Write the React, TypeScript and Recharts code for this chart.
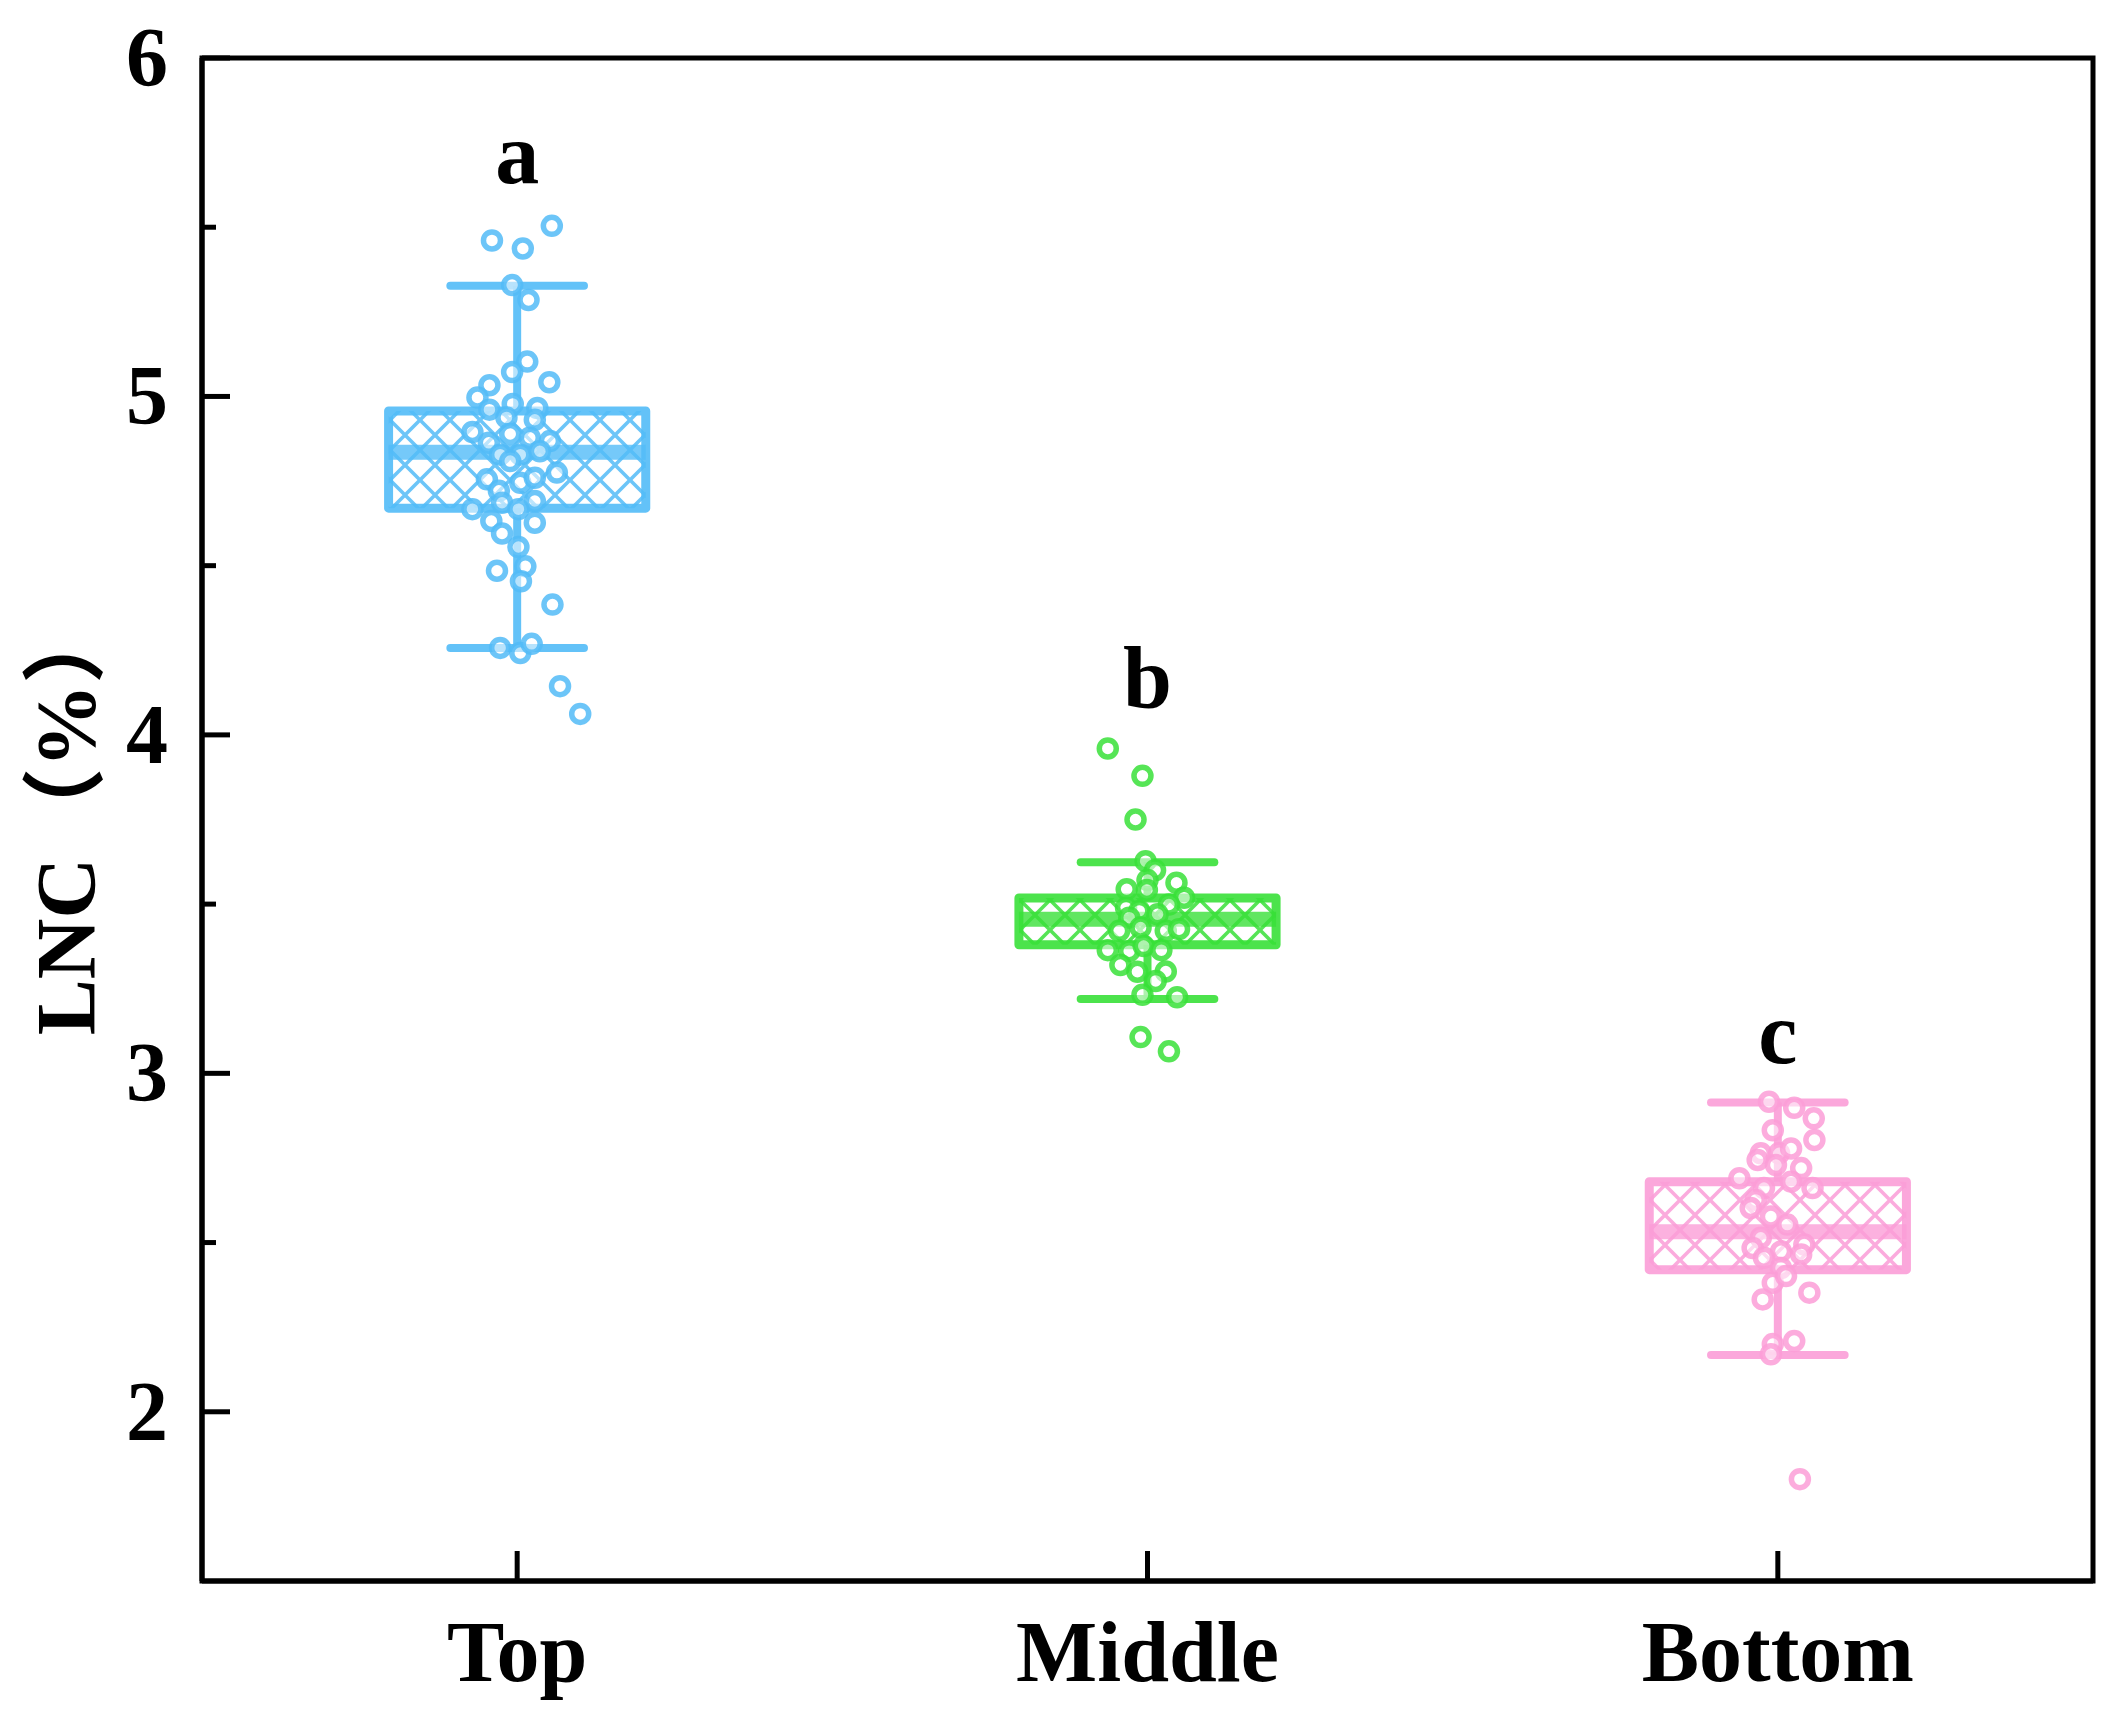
import React from "react";
import {
  ComposedChart,
  Scatter,
  XAxis,
  YAxis,
  ReferenceArea,
  ReferenceLine,
} from "recharts";

// groups, left to right
const CATEGORIES = ["Top", "Middle", "Bottom"];
const COLORS = ["#52bbf7", "#38e038", "#fb9dd7"];

// box statistics (%)
const Q1 = [4.67, 3.38, 2.42];
const Q3 = [4.957, 3.518, 2.68];
const MEDIAN = [4.835, 3.455, 2.532];
const WHISKER_LOW = [4.257, 3.22, 2.168];
const WHISKER_HIGH = [5.327, 3.624, 2.914];

// significance letters and the height they sit at
const LETTERS = ["a", "b", "c"];
const LETTER_Y = [5.63, 4.08, 3.03];

// raw samples and their horizontal jitter (fraction of the group width)
const TOP_VALUES = [
  5.461, 5.437, 5.504, 5.329, 5.285, 5.103, 5.072, 5.042, 5.033, 4.997,
  4.978, 4.966, 4.961, 4.938, 4.931, 4.895, 4.889, 4.878, 4.863, 4.868,
  4.828, 4.828, 4.838, 4.809, 4.775, 4.755, 4.745, 4.76, 4.721, 4.686,
  4.691, 4.667, 4.667, 4.632, 4.627, 4.595, 4.555, 4.485, 4.498, 4.454,
  4.385, 4.257, 4.242, 4.269, 4.144, 4.062,
];
const TOP_JITTER = [
  -0.04, 0.009, 0.055, -0.008, 0.018, 0.016, -0.008, 0.051, -0.044, -0.063,
  -0.007, 0.032, -0.044, -0.017, 0.028, -0.071, -0.011, 0.02, -0.045, 0.052,
  -0.027, 0.005, 0.036, -0.011, 0.063, -0.048, 0.005, 0.028, -0.029, -0.024,
  0.028, 0.002, -0.071, -0.041, 0.028, -0.024, 0.002, -0.032, 0.013, 0.006,
  0.056, -0.027, 0.005, 0.023, 0.068, 0.1,
];

const MIDDLE_VALUES = [
  3.96, 3.879, 3.75, 3.627, 3.6, 3.571, 3.563, 3.544, 3.542, 3.519, 3.499,
  3.489, 3.48, 3.46, 3.47, 3.421, 3.431, 3.421, 3.426, 3.364, 3.361, 3.376,
  3.364, 3.32, 3.3, 3.301, 3.273, 3.232, 3.225, 3.107, 3.065,
];
const MIDDLE_JITTER = [
  -0.063, -0.008, -0.019, -0.003, 0.012, 0, 0.046, -0.033, -0.001, 0.058,
  0.034, -0.034, -0.013, -0.029, 0.016, -0.045, -0.011, 0.029, 0.05, -0.063,
  -0.029, -0.006, 0.022, -0.043, -0.016, 0.029, 0.013, -0.008, 0.047, -0.011,
  0.034,
];

const BOTTOM_VALUES = [
  2.916, 2.898, 2.867, 2.803, 2.832, 2.764, 2.764, 2.778, 2.744, 2.729, 2.72,
  2.69, 2.68, 2.661, 2.661, 2.626, 2.602, 2.577, 2.553, 2.514, 2.494, 2.484,
  2.474, 2.455, 2.465, 2.425, 2.381, 2.401, 2.332, 2.352, 2.2, 2.209, 2.17,
  1.801,
];
const BOTTOM_JITTER = [
  -0.014, 0.026, 0.057, 0.058, -0.008, -0.027, 0.002, 0.021, -0.032, -0.003,
  0.037, -0.061, 0.021, -0.022, 0.055, -0.035, -0.043, -0.011, 0.015, -0.027,
  0.042, -0.04, 0.005, -0.022, 0.037, 0.005, -0.008, 0.013, -0.024, 0.05,
  -0.008, 0.026, -0.011, 0.035,
];

const Y_TICKS = [2, 2.5, 3, 3.5, 4, 4.5, 5, 5.5, 6];
const X_TICKS = [0.5, 1.5, 2.5];

const SAMPLES = [
  { values: TOP_VALUES, jitter: TOP_JITTER },
  { values: MIDDLE_VALUES, jitter: MIDDLE_JITTER },
  { values: BOTTOM_VALUES, jitter: BOTTOM_JITTER },
];

const FONT = "'Liberation Serif', 'Times New Roman', serif";
const FONT_SIZE = 84;
const BOX_HALF = 0.204;
const CAP_HALF = 0.106;

const YTick = (props: any) => {
  const { x, y, payload } = props;
  const major = Number.isInteger(payload.value);
  return (
    <g>
      <line x1={x} x2={x + (major ? 28 : 14)} y1={y} y2={y} stroke="#000" strokeWidth={5} />
      {major && (
        <text
          x={x - 34}
          y={y + 28}
          textAnchor="end"
          fontFamily={FONT}
          fontWeight="bold"
          fontSize={FONT_SIZE}
          fill="#000"
        >
          {payload.value}
        </text>
      )}
    </g>
  );
};

const XTick = (props: any) => {
  const { x, y, payload } = props;
  return (
    <g>
      <line x1={x} x2={x} y1={y} y2={y - 30} stroke="#000" strokeWidth={5} />
      <text
        x={x}
        y={y + 100}
        textAnchor="middle"
        fontFamily={FONT}
        fontWeight="bold"
        fontSize={FONT_SIZE + 2}
        fill="#000"
      >
        {CATEGORIES[Math.floor(payload.value)]}
      </text>
    </g>
  );
};

const YLabel = (props: any) => {
  const vb = props.viewBox;
  const cx = vb.x + 66;
  const cy = vb.y + vb.height / 2 - 2;
  return (
    <text
      x={cx}
      y={cy}
      transform={`rotate(-90 ${cx} ${cy})`}
      textAnchor="middle"
      dominantBaseline="central"
      fontFamily="'Liberation Serif', 'Noto Sans CJK SC', serif"
      fontWeight="bold"
      fontSize={FONT_SIZE}
      fill="#000"
    >
      LNC<tspan dx={6}>（%）</tspan>
    </text>
  );
};

const ring = (color: string) => (props: any) =>
  (
    <circle
      cx={props.cx}
      cy={props.cy}
      r={8.5}
      fill="#ffffff"
      fillOpacity={0.55}
      stroke={color}
      strokeOpacity={0.85}
      strokeWidth={5.5}
    />
  );

const letterShape = (props: any) => (
  <text
    x={props.cx}
    y={props.cy}
    textAnchor="middle"
    fontFamily={FONT}
    fontWeight="bold"
    fontSize={FONT_SIZE + 4}
    fill="#000"
  >
    {props.payload.label}
  </text>
);

const hatchPath =
  "M-5,-5L35,35 M25,-5L35,5 M-5,25L5,35 M-5,35L35,-5 M-5,5L5,-5 M25,35L35,25";

export default function App() {
  const letterData = LETTERS.map((l, i) => ({ x: i + 0.5, y: LETTER_Y[i], label: l }));

  return (
    <div style={{ position: "absolute", left: 0, top: 0, background: "#fff" }}>
      <ComposedChart
        width={2126}
        height={1728}
        margin={{ top: 58, right: 33, bottom: 0, left: 0 }}
      >
        <defs>
          {COLORS.map((c, i) => (
            <pattern
              key={i}
              id={`hatch${i}`}
              width={30}
              height={30}
              patternUnits="userSpaceOnUse"
            >
              <rect width={30} height={30} fill="#ffffff" />
              <path d={hatchPath} stroke={c} strokeOpacity={0.85} strokeWidth={3.6} fill="none" />
            </pattern>
          ))}
        </defs>

        <XAxis
          type="number"
          dataKey="x"
          domain={[0, 3]}
          ticks={X_TICKS}
          interval={0}
          allowDataOverflow
          height={147}
          tickSize={0}
          tickMargin={0}
          tickLine={false}
          tick={<XTick />}
          axisLine={{ stroke: "#000", strokeWidth: 5 }}
        />
        <YAxis
          type="number"
          dataKey="y"
          domain={[1.5, 6]}
          ticks={Y_TICKS}
          interval={0}
          allowDataOverflow
          width={202}
          tickSize={0}
          tickMargin={0}
          tickLine={false}
          tick={<YTick />}
          axisLine={{ stroke: "#000", strokeWidth: 5 }}
          label={<YLabel />}
        />

        {CATEGORIES.map((_, i) => (
          <ReferenceLine
            key={`wh${i}`}
            segment={[
              { x: i + 0.5, y: Q3[i] },
              { x: i + 0.5, y: WHISKER_HIGH[i] },
            ]}
            stroke={COLORS[i]}
            strokeOpacity={0.9}
            strokeWidth={8}
          />
        ))}
        {CATEGORIES.map((_, i) => (
          <ReferenceLine
            key={`wl${i}`}
            segment={[
              { x: i + 0.5, y: WHISKER_LOW[i] },
              { x: i + 0.5, y: Q1[i] },
            ]}
            stroke={COLORS[i]}
            strokeOpacity={0.9}
            strokeWidth={8}
          />
        ))}
        {CATEGORIES.map((_, i) => (
          <ReferenceLine
            key={`ch${i}`}
            segment={[
              { x: i + 0.5 - CAP_HALF, y: WHISKER_HIGH[i] },
              { x: i + 0.5 + CAP_HALF, y: WHISKER_HIGH[i] },
            ]}
            stroke={COLORS[i]}
            strokeOpacity={0.9}
            strokeWidth={8}
            strokeLinecap="round"
          />
        ))}
        {CATEGORIES.map((_, i) => (
          <ReferenceLine
            key={`cl${i}`}
            segment={[
              { x: i + 0.5 - CAP_HALF, y: WHISKER_LOW[i] },
              { x: i + 0.5 + CAP_HALF, y: WHISKER_LOW[i] },
            ]}
            stroke={COLORS[i]}
            strokeOpacity={0.9}
            strokeWidth={8}
            strokeLinecap="round"
          />
        ))}

        {CATEGORIES.map((_, i) => (
          <ReferenceArea
            key={`box${i}`}
            x1={i + 0.5 - BOX_HALF}
            x2={i + 0.5 + BOX_HALF}
            y1={Q1[i]}
            y2={Q3[i]}
            fill={`url(#hatch${i})`}
            fillOpacity={1}
            stroke={COLORS[i]}
            strokeOpacity={0.9}
            strokeWidth={9}
            strokeLinejoin="round"
          />
        ))}
        {CATEGORIES.map((_, i) => (
          <ReferenceLine
            key={`med${i}`}
            segment={[
              { x: i + 0.5 - BOX_HALF, y: MEDIAN[i] },
              { x: i + 0.5 + BOX_HALF, y: MEDIAN[i] },
            ]}
            stroke={COLORS[i]}
            strokeOpacity={0.8}
            strokeWidth={15}
          />
        ))}

        {SAMPLES.map((s, i) => (
          <Scatter
            key={`pts${i}`}
            data={s.values.map((v, k) => ({ x: i + 0.5 + s.jitter[k], y: v }))}
            shape={ring(COLORS[i])}
            isAnimationActive={false}
          />
        ))}

        <Scatter data={letterData} shape={letterShape} isAnimationActive={false} />

        <ReferenceArea
          x1={0}
          x2={3}
          y1={1.5}
          y2={6}
          fill="none"
          stroke="#000"
          strokeWidth={5}
        />
      </ComposedChart>
    </div>
  );
}
